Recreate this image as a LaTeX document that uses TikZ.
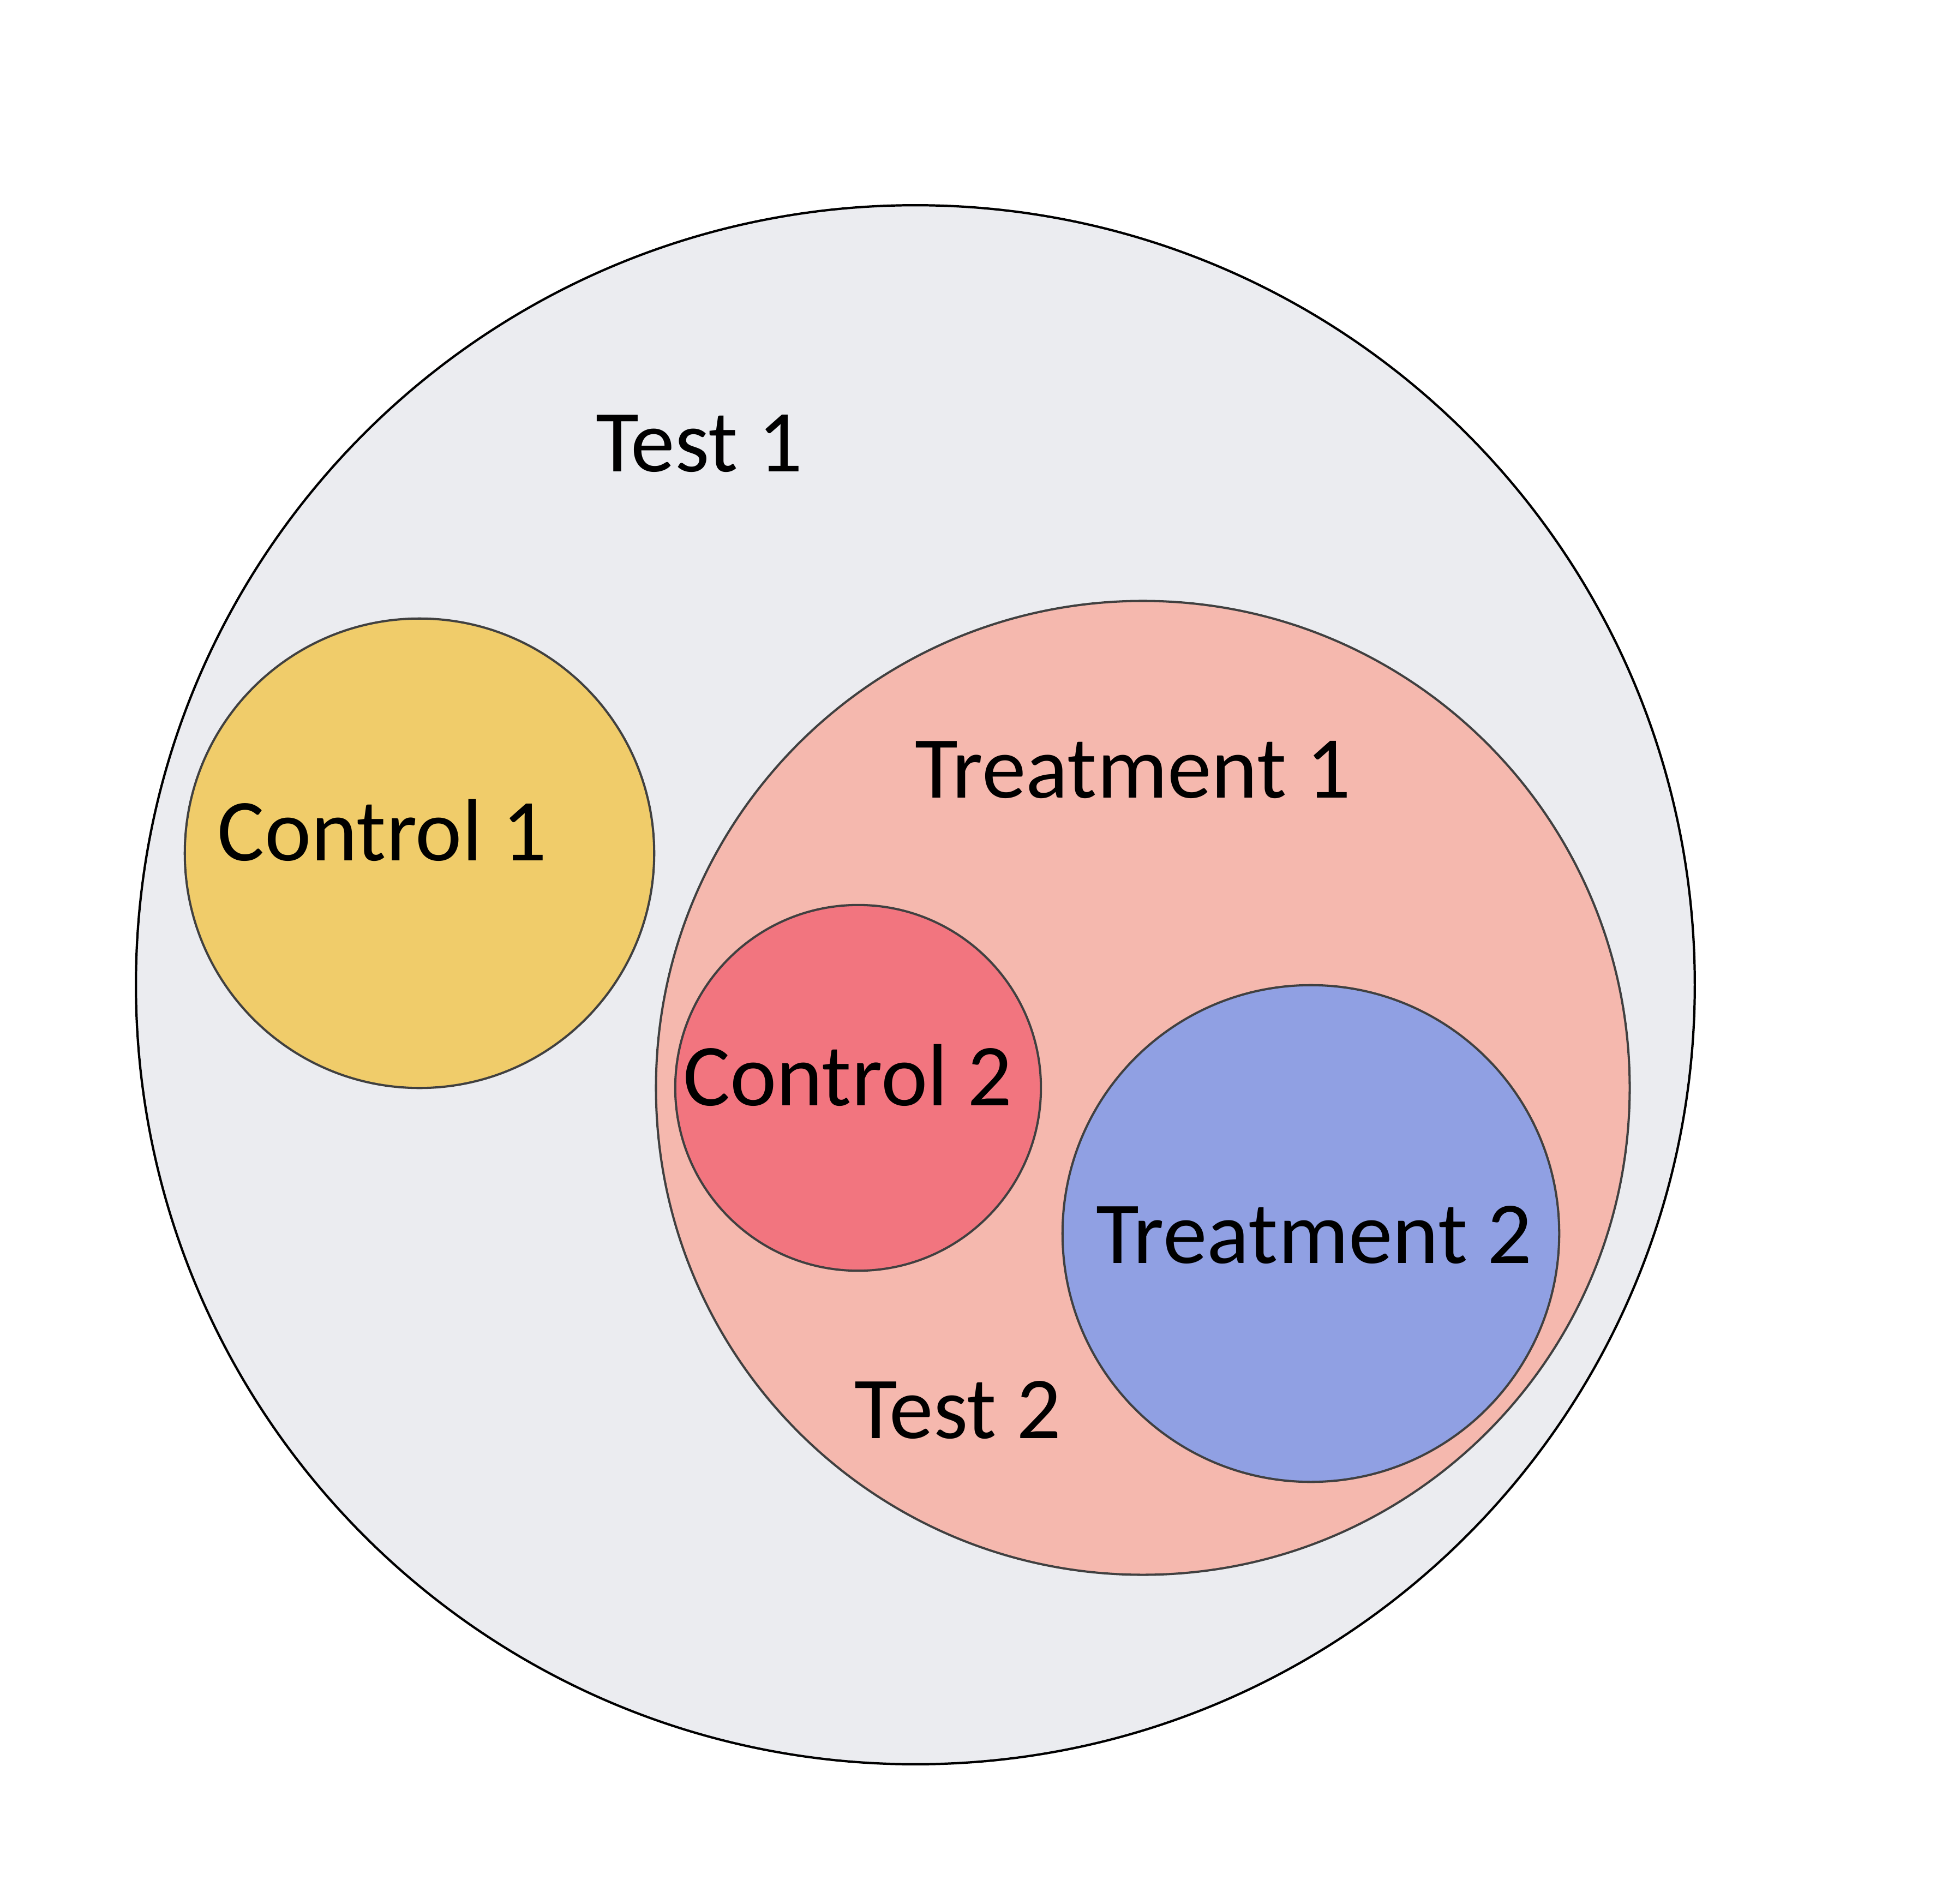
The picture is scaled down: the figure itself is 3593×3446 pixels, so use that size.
\documentclass[tikz,border=0pt]{standalone}
\usepackage{fontspec}
\setmainfont{Carlito}
\definecolor{bigfill}{HTML}{EBECF0}
\definecolor{c1fill}{HTML}{F0CC6A}
\definecolor{t1fill}{HTML}{F5B8AE}
\definecolor{c2fill}{HTML}{F2757F}
\definecolor{t2fill}{HTML}{90A0E3}
\definecolor{edgegray}{HTML}{404040}
\tikzset{
  setcircle/.style={circle, inner sep=0pt, draw=edgegray, line width=1.15pt},
  lbl/.style={inner sep=0pt, anchor=base, font=\fontsize{46}{54}\selectfont}
}
\begin{document}
\begin{tikzpicture}[x=0.01cm, y=-0.01cm]
\useasboundingbox (0,0) rectangle (3593,3446);
\node[setcircle, draw=black, line width=1.2pt, fill=bigfill, minimum size=28.56cm] (test1) at (1678,1805) {};
\node[setcircle, fill=c1fill, minimum size=8.60cm] (control1) at (769,1564) {};
\node[setcircle, fill=t1fill, minimum size=17.84cm] (treat1) at (2095,1994) {};
\node[setcircle, fill=c2fill, minimum size=6.70cm] (control2) at (1573,1994) {};
\node[setcircle, fill=t2fill, minimum size=9.10cm] (treat2) at (2403,2261) {};
\node[lbl] (ltest1) at (1282,864) {Test 1};
\node[lbl] (lcontrol1) at (701,1577) {Control 1};
\node[lbl] (ltreat1) at (2077,1462) {Treatment 1};
\node[lbl] (lcontrol2) at (1554,2026) {Control 2};
\node[lbl] (ltreat2) at (2409,2315) {Treatment 2};
\node[lbl] (ltest2) at (1756,2636) {Test 2};
\end{tikzpicture}
\end{document}
